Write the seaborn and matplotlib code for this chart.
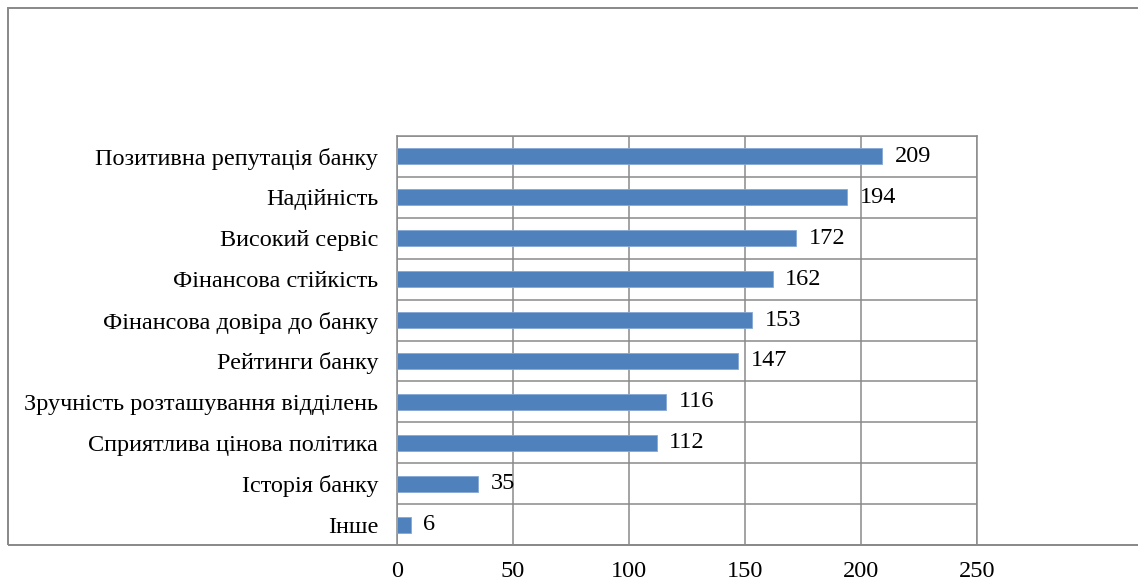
import matplotlib
matplotlib.use('Agg')
import matplotlib.pyplot as plt
import seaborn as sns
import pandas as pd
import numpy as np
from matplotlib.patches import Rectangle

categories = ["Позитивна репутація банку", "Надійність", "Високий сервіс",
              "Фінансова стійкість", "Фінансова довіра до банку", "Рейтинги банку",
              "Зручність розташування відділень", "Сприятлива цінова політика",
              "Історія банку", "Інше"]
values = [209, 194, 172, 162, 153, 147, 116, 112, 35, 6]
x_ticks = [0, 50, 100, 150, 200, 250]

sns.set_theme(style='white')
plt.rcParams['font.family'] = ['Liberation Serif', 'DejaVu Serif']

W, H = 1138, 584
FS = 17.5
fig = plt.figure(figsize=(W / 100, H / 100), dpi=100)
fig.patch.set_facecolor('white')

ax = fig.add_axes([397 / W, 1 - 545 / H, (977 - 397) / W, (545 - 136) / H])
ax.set_facecolor('none')
ax.set_zorder(1)

df = pd.DataFrame({'cat': categories, 'val': values})
sns.barplot(data=df, y='cat', x='val', orient='h', color='#4F81BD', width=0.39,
            saturation=1, ax=ax, edgecolor='#86A8D6', linewidth=0.6, zorder=3)

ax.set_xlim(0, 250)
ax.set_ylim(len(categories) - 0.5, -0.5)
ax.set_xticks(x_ticks)
ax.set_xticklabels([str(t) for t in x_ticks])
ax.set_xlabel('')
ax.set_ylabel('')

gc = '#8a8a8a'
ax.set_yticks(np.arange(-0.5, len(categories), 1.0), minor=True)
ax.grid(True, which='minor', axis='y', color=gc, lw=1.1, zorder=0)
ax.grid(True, which='major', axis='x', color=gc, lw=1.1, zorder=0)
ax.grid(False, which='major', axis='y')
ax.tick_params(axis='y', which='major', length=0, pad=13.5, labelsize=FS, colors='black')
ax.tick_params(axis='y', which='minor', length=7, width=1.1, color=gc, direction='out')
ax.tick_params(axis='x', which='major', length=7, width=1.1, color=gc, direction='out',
               pad=4.5, labelsize=FS, labelcolor='black')
for s in ['left', 'bottom', 'top', 'right']:
    ax.spines[s].set_color(gc)
    ax.spines[s].set_linewidth(1.1)

for c in ax.containers:
    ax.bar_label(c, labels=[str(v) for v in values], padding=9, fontsize=FS, color='black')

fig.add_artist(Rectangle((8 / W, 1 - 545 / H), 2.0, (545 - 8) / H, transform=fig.transFigure,
                         fill=False, edgecolor='#888888', lw=1.4, zorder=0))

fig.savefig('out.png', dpi=100, facecolor='white')
